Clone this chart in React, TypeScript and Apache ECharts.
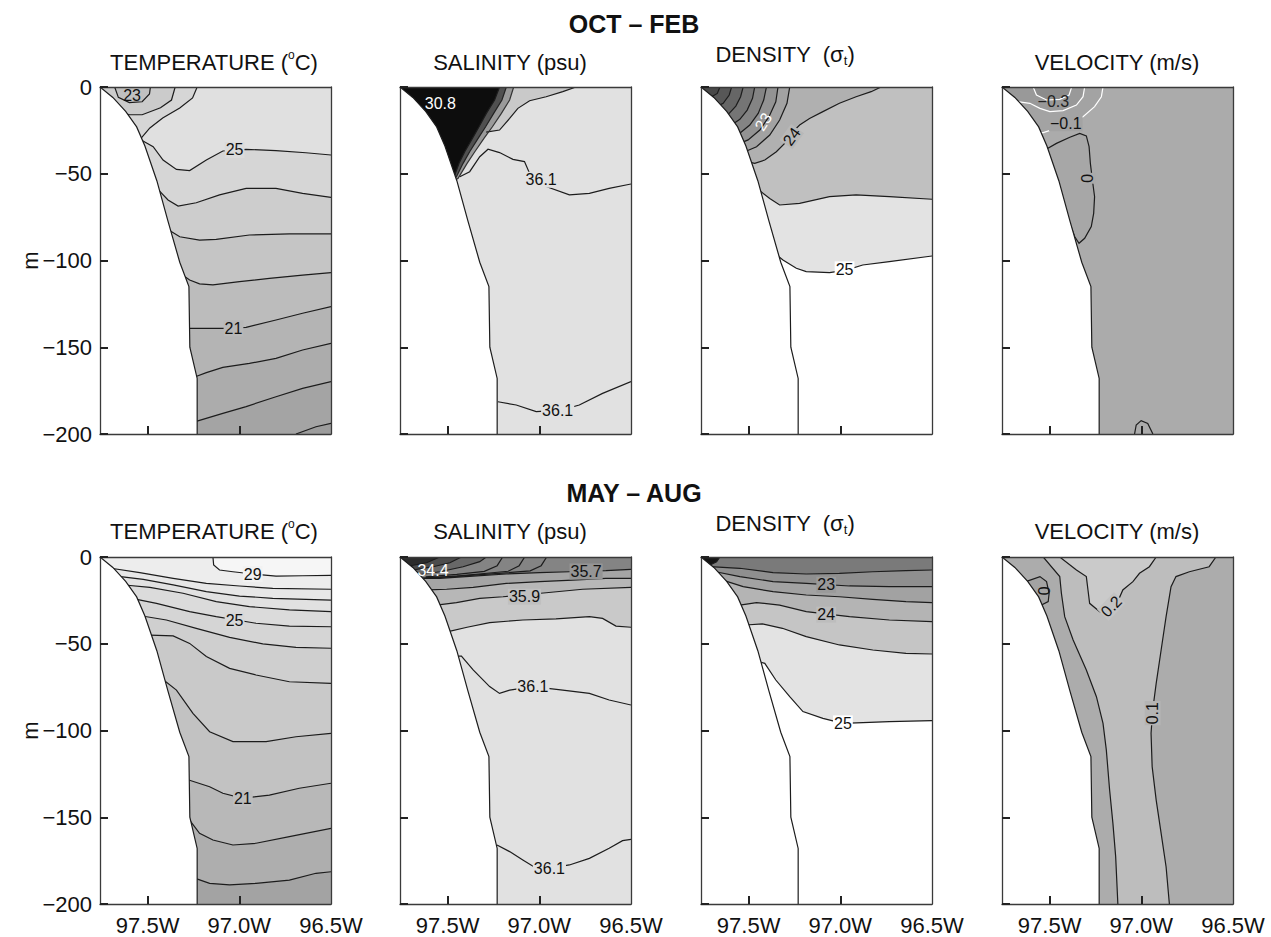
import React, { useEffect, useRef } from 'react';
import * as echarts from 'echarts';

type Pt = [number, number];

// ---------- axes ----------
const LON_MIN = -97.76;
const LON_MAX = -96.5;
const DEPTH_BOTTOM = -200;
const DEPTH_TOP = 0;
const DEPTH_STEP = 50;
const lonTickValues = [-97.5, -97.0];
const lonLabelValues = [-97.5, -97.0, -96.5];

const seasonTitles = ['OCT – FEB', 'MAY – AUG'];

// ---------- shelf bottom (land lies below/left) ----------
const bathymetry: Pt[] = [[-97.76, 0], [-97.69, -6], [-97.62, -14], [-97.56, -23], [-97.515, -34], [-97.45, -54], [-97.39, -77], [-97.325, -101], [-97.275, -115], [-97.27, -150], [-97.23, -168], [-97.23, -200]];

// ---------- OCT–FEB temperature (°C) ----------
const tOct25Coast: Pt[] = [[-97.23, 0], [-97.255, -6.3], [-97.325, -12.1], [-97.418, -17.9], [-97.488, -23.6], [-97.54, -30]];
const tOct24Coast: Pt[] = [[-97.35, 0], [-97.37, -7.5], [-97.43, -12], [-97.53, -16], [-97.6, -16], [-97.645, -14.5]];
const tOct23Loop: Pt[] = [[-97.68, 0], [-97.66, -6], [-97.6, -9], [-97.53, -8.5], [-97.49, -4], [-97.485, 0]];
const tOct25: Pt[] = [[-97.535, -30.5], [-97.47, -34.4], [-97.416, -42.1], [-97.343, -47.5], [-97.271, -48.2], [-97.18, -42.1], [-97.09, -36.9], [-96.963, -35.9], [-96.8, -36.7], [-96.637, -37.9], [-96.5, -39.2]];
const tOct24: Pt[] = [[-97.44, -59.4], [-97.389, -65.1], [-97.334, -68.6], [-97.235, -66.7], [-97.108, -62.2], [-96.963, -58.4], [-96.8, -58.4], [-96.655, -61.3], [-96.5, -63.6]];
const tOct23: Pt[] = [[-97.385, -82.4], [-97.325, -86.3], [-97.217, -88.2], [-97.126, -87.8], [-96.945, -85.3], [-96.727, -84.7], [-96.5, -84.7]];
const tOct22: Pt[] = [[-97.31, -108.4], [-97.271, -111.2], [-97.217, -113.5], [-97.144, -114.1], [-96.999, -112.2], [-96.836, -110.3], [-96.655, -108.4], [-96.5, -107]];
const tOct21: Pt[] = [[-97.28, -139.1], [-97.199, -139.1], [-97.09, -139.1], [-96.963, -138.5], [-96.8, -134.3], [-96.655, -130.4], [-96.5, -126.6]];
const tOct20: Pt[] = [[-97.24, -167], [-97.18, -164.6], [-97.09, -161.6], [-96.945, -159.3], [-96.8, -156.4], [-96.655, -151.6], [-96.5, -147.7]];
const tOct19: Pt[] = [[-97.24, -192.9], [-97.09, -188.1], [-96.963, -184.2], [-96.8, -178.5], [-96.655, -173.7], [-96.5, -169.8]];
const tOct18: Pt[] = [[-96.691, -200], [-96.582, -195.8], [-96.5, -193.9]];

// ---------- OCT–FEB salinity (psu) ----------
const sOctFront: Pt[] = [[-96.8, 0], [-96.872, -2.7], [-96.963, -5.6], [-97.053, -7.9], [-97.117, -12.3], [-97.162, -18.1], [-97.217, -24.8], [-97.29, -26]];
const sOctPlume1: Pt[] = [[-97.14, 0], [-97.162, -7.5], [-97.207, -15.2], [-97.256, -22.9], [-97.302, -29.6], [-97.352, -37.3], [-97.394, -44], [-97.443, -52.6], [-97.48, -55]];
const sOctPlume2: Pt[] = [[-97.18, 0], [-97.204, -7.5], [-97.249, -15.2], [-97.293, -22.9], [-97.334, -29.6], [-97.38, -37.3], [-97.416, -44], [-97.452, -51.7], [-97.48, -54]];
const sOctPlume3: Pt[] = [[-97.217, 0], [-97.244, -7.5], [-97.289, -15.2], [-97.329, -22.9], [-97.365, -29.6], [-97.407, -37.3], [-97.438, -44], [-97.461, -50.7], [-97.49, -52]];
const sOct361Upper: Pt[] = [[-97.434, -51.7], [-97.38, -48.8], [-97.325, -40.2], [-97.28, -35.9], [-97.217, -37.8], [-97.144, -41.7], [-97.081, -43], [-97.053, -49.8], [-96.963, -57.4], [-96.836, -62.2], [-96.727, -61.3], [-96.619, -58.4], [-96.5, -55.9]];
const sOct361Lower: Pt[] = [[-97.226, -181.4], [-97.126, -183.3], [-97.017, -187.1], [-96.881, -186.2], [-96.782, -183.3], [-96.655, -176.6], [-96.5, -169.8]];

// ---------- OCT–FEB density (sigma-t) ----------
const dOct24: Pt[] = [[-96.778, 0], [-96.832, -2.7], [-96.914, -5.6], [-97.005, -9.4], [-97.095, -14.2], [-97.168, -18.1], [-97.222, -21.9], [-97.267, -26.7], [-97.294, -31.5], [-97.349, -37.3], [-97.412, -42.1], [-97.467, -44], [-97.51, -43]];
const dOctArc1: Pt[] = [[-97.276, 0], [-97.291, -9.4], [-97.331, -19], [-97.385, -27.7], [-97.457, -34.4], [-97.521, -37.3]];
const dOctArc2: Pt[] = [[-97.34, 0], [-97.352, -8.5], [-97.389, -17.1], [-97.439, -24.8], [-97.503, -30.5], [-97.548, -32.5]];
const dOctArc3: Pt[] = [[-97.403, 0], [-97.418, -7.5], [-97.448, -15.2], [-97.494, -21.9], [-97.548, -26.7], [-97.584, -27.7]];
const dOctArc4: Pt[] = [[-97.467, 0], [-97.479, -6.5], [-97.508, -13.3], [-97.548, -18.6], [-97.593, -21.9], [-97.621, -22.5]];
const dOctArc5: Pt[] = [[-97.53, 0], [-97.544, -5.6], [-97.57, -11], [-97.606, -15.2], [-97.648, -17.1]];
const dOctArc6: Pt[] = [[-97.593, 0], [-97.606, -4.6], [-97.639, -9.4], [-97.675, -11.3]];
const dOctArc7: Pt[] = [[-97.657, 0], [-97.671, -3.7], [-97.702, -5.6]];
const dOct245: Pt[] = [[-97.457, -58.4], [-97.385, -64.2], [-97.331, -68], [-97.222, -67.1], [-97.059, -63.2], [-96.914, -62.2], [-96.733, -63.2], [-96.5, -64.7]];
const dOct25: Pt[] = [[-97.345, -97], [-97.313, -99.7], [-97.24, -104.5], [-97.186, -106.4], [-97.059, -107], [-96.968, -105.5], [-96.878, -102.6], [-96.733, -100.7], [-96.5, -97.4]];

// ---------- OCT–FEB velocity (m/s) ----------
const vOctM01: Pt[] = [[-97.209, 0], [-97.218, -5.6], [-97.255, -11.3], [-97.318, -17.1], [-97.409, -21.3], [-97.481, -24.4], [-97.535, -26.3], [-97.572, -26.3]];
const vOctM02: Pt[] = [[-97.309, 0], [-97.318, -5.6], [-97.354, -10.4], [-97.427, -13.6], [-97.499, -14.2], [-97.553, -12.3], [-97.608, -9.4], [-97.7, -8]];
const vOctM03: Pt[] = [[-97.38, 0], [-97.394, -4.6], [-97.445, -7.1], [-97.517, -7.5], [-97.572, -4.6], [-97.59, 0]];
const vOctZero: Pt[] = [[-97.526, -36.3], [-97.463, -32.5], [-97.39, -29], [-97.336, -26.7], [-97.3, -28.2], [-97.285, -34.4], [-97.278, -44], [-97.267, -53.6], [-97.255, -63.2], [-97.26, -72.8], [-97.273, -80.5], [-97.309, -87.2], [-97.34, -90.1], [-97.363, -86.3], [-97.39, -78.6], [-97.412, -73.8]];
const vOctBottom: Pt[] = [[-97.037, -200], [-97.028, -194.8], [-97.001, -192.3], [-96.965, -193.9], [-96.937, -200]];

// ---------- MAY–AUG temperature (°C) ----------
const tMay29: Pt[] = [[-97.144, 0], [-97.14, -4.6], [-97.108, -7.5], [-97.035, -8.5], [-96.927, -9.8], [-96.8, -11], [-96.655, -10.8], [-96.5, -10.6]];
const tMay28: Pt[] = [[-97.7, -6.5], [-97.543, -9], [-97.361, -12.3], [-97.18, -15.2], [-96.999, -16.7], [-96.818, -18.1], [-96.5, -18.6]];
const tMay27: Pt[] = [[-97.67, -11], [-97.524, -12.9], [-97.361, -16.1], [-97.18, -20], [-96.999, -22.5], [-96.818, -23.8], [-96.5, -24.8]];
const tMay26: Pt[] = [[-97.64, -16], [-97.488, -17.5], [-97.307, -20.9], [-97.126, -25.7], [-96.945, -28.6], [-96.727, -30.5], [-96.5, -31.5]];
const tMay25: Pt[] = [[-97.58, -24], [-97.452, -26.7], [-97.271, -31.5], [-97.126, -34.4], [-96.909, -38.2], [-96.727, -39.8], [-96.5, -40.2]];
const tMay24: Pt[] = [[-97.53, -34], [-97.398, -36.3], [-97.235, -41.1], [-97.053, -46.3], [-96.872, -50.1], [-96.691, -52.1], [-96.5, -52.6]];
const tMay23: Pt[] = [[-97.488, -45], [-97.361, -45.5], [-97.271, -49.8], [-97.18, -57.4], [-97.053, -64.2], [-96.909, -68], [-96.727, -71.9], [-96.5, -72.8]];
const tMay22: Pt[] = [[-97.425, -69.9], [-97.343, -76.7], [-97.253, -90.1], [-97.162, -100.7], [-97.035, -106.4], [-96.854, -106.4], [-96.691, -103.6], [-96.5, -101.6]];
const tMay21: Pt[] = [[-97.276, -128.5], [-97.162, -132.4], [-97.09, -136.2], [-96.981, -139.1], [-96.836, -137.2], [-96.673, -133.3], [-96.5, -130.4]];
const tMay20: Pt[] = [[-97.271, -151.6], [-97.217, -159.3], [-97.144, -163.1], [-97.035, -166], [-96.909, -165], [-96.727, -161.2], [-96.5, -156.4]];
const tMay19: Pt[] = [[-97.24, -185.2], [-97.162, -188.1], [-97.053, -189], [-96.909, -188.1], [-96.727, -186.2], [-96.582, -182.3], [-96.5, -181.4]];

// ---------- MAY–AUG salinity (psu) ----------
const sMayCore1: Pt[] = [[-97.289, 0], [-97.325, -2.7], [-97.416, -5.6], [-97.543, -8.5], [-97.67, -10.5]];
const sMayCore2: Pt[] = [[-97.425, 0], [-97.488, -3.3], [-97.579, -5.6], [-97.69, -7.5]];
const sMayCore3: Pt[] = [[-97.543, 0], [-97.615, -3.3], [-97.71, -5.2]];
const sMayStreak1: Pt[] = [[-97.2, 0], [-97.23, -5], [-97.3, -8.3], [-97.45, -10], [-97.62, -11.5]];
const sMayStreak2: Pt[] = [[-97.08, 0], [-97.11, -5], [-97.17, -8.2], [-97.3, -9.5], [-97.45, -11], [-97.62, -12]];
const sMayStreak3: Pt[] = [[-96.96, 0], [-96.99, -5], [-97.05, -8], [-97.2, -9.3], [-97.36, -10.5], [-97.54, -11.8], [-97.64, -12.1]];
const sMay357: Pt[] = [[-97.642, -12.3], [-97.543, -12.3], [-97.361, -11], [-97.18, -9.8], [-96.999, -9], [-96.836, -8.5], [-96.637, -7.9], [-96.5, -7.1]];
const sMay358: Pt[] = [[-97.606, -19], [-97.506, -18.6], [-97.361, -17.5], [-97.18, -15.2], [-96.999, -14.2], [-96.818, -13.3], [-96.637, -12.3], [-96.5, -12.3]];
const sMay359: Pt[] = [[-97.561, -27.7], [-97.452, -26.3], [-97.325, -23.8], [-97.198, -22.9], [-96.963, -20.6], [-96.764, -18.6], [-96.5, -17.5]];
const sMay360: Pt[] = [[-97.497, -43], [-97.394, -40.5], [-97.271, -37.8], [-97.09, -36.3], [-96.909, -35.7], [-96.727, -34.4], [-96.655, -35.4], [-96.582, -39.8], [-96.5, -40.5]];
const sMay361Upper: Pt[] = [[-97.443, -57.1], [-97.425, -57.1], [-97.361, -65.1], [-97.271, -74.7], [-97.217, -78.6], [-97.162, -76.7], [-97.035, -74.7], [-96.872, -76.7], [-96.727, -78.6], [-96.619, -82.4], [-96.5, -85.3]];
const sMay361Lower: Pt[] = [[-97.231, -166], [-97.162, -169.8], [-97.09, -174.6], [-97.017, -179.4], [-96.945, -179.4], [-96.836, -177.5], [-96.727, -173.7], [-96.619, -167.9], [-96.546, -163.5], [-96.5, -162.7]];

// ---------- MAY–AUG density (sigma-t) ----------
const dMayCore: Pt[] = [[-97.657, 0], [-97.675, -2.7], [-97.711, -4.6]];
const dMay225: Pt[] = [[-97.71, -5.5], [-97.548, -6.5], [-97.367, -9], [-97.186, -9.8], [-97.005, -9.4], [-96.823, -8.5], [-96.642, -7.9], [-96.5, -7.5]];
const dMay23: Pt[] = [[-97.68, -8.5], [-97.548, -11.3], [-97.367, -14.2], [-97.186, -15.2], [-96.95, -16.7], [-96.733, -17.1], [-96.5, -17.1]];
const dMay235: Pt[] = [[-97.65, -13], [-97.53, -17.1], [-97.367, -20], [-97.186, -21.9], [-97.005, -22.9], [-96.823, -24.4], [-96.642, -25.7], [-96.5, -26.3]];
const dMay24: Pt[] = [[-97.548, -27.7], [-97.457, -26.3], [-97.331, -27.7], [-97.186, -31.5], [-96.95, -34.4], [-96.733, -36.3], [-96.5, -37.3]];
const dMay245: Pt[] = [[-97.515, -39.2], [-97.425, -38.6], [-97.316, -41.1], [-97.186, -45.9], [-97.005, -50.7], [-96.823, -53.6], [-96.642, -55.5], [-96.5, -55.9]];
const dMay25: Pt[] = [[-97.448, -60.3], [-97.412, -61.3], [-97.352, -70.9], [-97.276, -80.5], [-97.204, -89.1], [-97.095, -93], [-96.986, -95.9], [-96.877, -95.5], [-96.733, -94.9], [-96.5, -94.3]];

// ---------- MAY–AUG velocity (m/s) ----------
const vMay01West: Pt[] = [[-97.535, 0], [-97.445, -11.3], [-97.436, -20.9], [-97.418, -34.4], [-97.372, -47.8], [-97.3, -65.1], [-97.245, -80.5], [-97.209, -95.9], [-97.191, -111.2], [-97.173, -134.3], [-97.155, -153.5], [-97.14, -172.7], [-97.128, -200]];
const vMay01East: Pt[] = [[-96.593, 0], [-96.63, -5.6], [-96.738, -8.5], [-96.811, -11.3], [-96.838, -17.1], [-96.865, -34.4], [-96.892, -53.6], [-96.919, -72.8], [-96.938, -88.2], [-96.947, -101.6], [-96.941, -120.8], [-96.919, -140.1], [-96.892, -159.3], [-96.865, -178.5], [-96.847, -200]];
const vMay02: Pt[] = [[-97.445, 0], [-97.354, -7.5], [-97.3, -11.3], [-97.291, -19], [-97.282, -26.7], [-97.227, -31.5], [-97.191, -32.5], [-97.137, -27.7], [-97.101, -19], [-97.046, -14.2], [-97.01, -9.4], [-96.956, -5.6], [-96.919, 0]];
const vMay00: Pt[] = [[-97.63, -14.2], [-97.553, -11.3], [-97.517, -14.2], [-97.503, -20.9], [-97.508, -25.7], [-97.55, -28]];

// ---------- drawing model ----------
type Mode = 'below' | 'corner' | 'poly' | 'line';
interface Layer { mode: Mode; pts: Pt[]; fill?: string; stroke?: string | null }
interface Label { at: Pt; text: string; rot?: number; color?: string; bg?: string; size?: number }
interface Panel { base: string; layers: Layer[]; labels: Label[] }

const FONT = '"Liberation Sans", Arial, Helvetica, sans-serif';
const INK = '#1c1c1c';
const WHITE = '#ffffff';

const panels: Panel[] = [
  {
    base: '#e0e0e0',
    layers: [
      { mode: 'corner', pts: tOct25Coast, fill: '#d6d6d6' },
      { mode: 'below', pts: tOct25, fill: '#d6d6d6' },
      { mode: 'corner', pts: tOct24Coast, fill: '#cbcbcb' },
      { mode: 'poly', pts: tOct23Loop, fill: '#c0c0c0' },
      { mode: 'below', pts: tOct24, fill: '#cdcdcd' },
      { mode: 'below', pts: tOct23, fill: '#c5c5c5' },
      { mode: 'below', pts: tOct22, fill: '#bcbcbc' },
      { mode: 'below', pts: tOct21, fill: '#b4b4b4' },
      { mode: 'below', pts: tOct20, fill: '#acacac' },
      { mode: 'below', pts: tOct19, fill: '#a4a4a4' },
      { mode: 'below', pts: tOct18, fill: '#9c9c9c' },
    ],
    labels: [
      { at: [-97.026, -36.3], text: '25', bg: '#dbdbdb' },
      { at: [-97.032, -139.1], text: '21', bg: '#b8b8b8' },
      { at: [-97.585, -4.8], text: '23' },
    ],
  },
  {
    base: '#e1e1e1',
    layers: [
      { mode: 'corner', pts: sOctFront, fill: '#c9c9c9' },
      { mode: 'corner', pts: sOctPlume1, fill: '#9a9a9a', stroke: '#333333' },
      { mode: 'corner', pts: sOctPlume2, fill: '#505050', stroke: '#222222' },
      { mode: 'corner', pts: sOctPlume3, fill: '#0d0d0d' },
      { mode: 'line', pts: sOct361Upper },
      { mode: 'line', pts: sOct361Lower },
    ],
    labels: [
      { at: [-97.54, -9.4], text: '30.8', color: WHITE },
      { at: [-96.99, -53.5], text: '36.1', bg: '#e1e1e1' },
      { at: [-96.9, -186.4], text: '36.1', bg: '#e1e1e1' },
    ],
  },
  {
    base: '#c0c0c0',
    layers: [
      { mode: 'corner', pts: dOct24, fill: '#b0b0b0' },
      { mode: 'corner', pts: dOctArc1, fill: '#a2a2a2' },
      { mode: 'corner', pts: dOctArc2, fill: '#939393' },
      { mode: 'corner', pts: dOctArc3, fill: '#848484' },
      { mode: 'corner', pts: dOctArc4, fill: '#757575' },
      { mode: 'corner', pts: dOctArc5, fill: '#666666' },
      { mode: 'corner', pts: dOctArc6, fill: '#575757' },
      { mode: 'corner', pts: dOctArc7, fill: '#484848' },
      { mode: 'below', pts: dOct245, fill: '#e3e3e3' },
      { mode: 'below', pts: dOct25, fill: '#ffffff' },
    ],
    labels: [
      { at: [-97.265, -28.6], text: '24', rot: 0.95, bg: '#b8b8b8' },
      { at: [-97.42, -20], text: '23', rot: 1.0, color: WHITE },
      { at: [-96.977, -105.1], text: '25', bg: '#ffffff' },
    ],
  },
  {
    base: '#ababab',
    layers: [
      { mode: 'corner', pts: vOctM01, fill: '#a3a3a3', stroke: WHITE },
      { mode: 'corner', pts: vOctM02, fill: '#999999', stroke: WHITE },
      { mode: 'poly', pts: vOctM03, fill: '#8c8c8c', stroke: WHITE },
      { mode: 'poly', pts: vOctZero, fill: '#a7a7a7' },
      { mode: 'line', pts: vOctBottom },
    ],
    labels: [
      { at: [-97.48, -8.6], text: '−0.3', color: '#222222' },
      { at: [-97.412, -20.9], text: '−0.1', bg: '#a3a3a3' },
      { at: [-97.291, -52.6], text: '0', rot: Math.PI / 2, bg: '#a9a9a9' },
    ],
  },
  {
    base: '#f6f6f6',
    layers: [
      { mode: 'below', pts: tMay29, fill: '#ededed' },
      { mode: 'below', pts: tMay28, fill: '#e7e7e7' },
      { mode: 'below', pts: tMay27, fill: '#e1e1e1' },
      { mode: 'below', pts: tMay26, fill: '#dbdbdb' },
      { mode: 'below', pts: tMay25, fill: '#d5d5d5' },
      { mode: 'below', pts: tMay24, fill: '#cfcfcf' },
      { mode: 'below', pts: tMay23, fill: '#c9c9c9' },
      { mode: 'below', pts: tMay22, fill: '#c2c2c2' },
      { mode: 'below', pts: tMay21, fill: '#b8b8b8' },
      { mode: 'below', pts: tMay20, fill: '#aeaeae' },
      { mode: 'below', pts: tMay19, fill: '#a3a3a3' },
    ],
    labels: [
      { at: [-96.927, -9.8], text: '29', bg: '#f2f2f2' },
      { at: [-97.026, -36.4], text: '25', bg: '#d8d8d8' },
      { at: [-96.981, -139.1], text: '21', bg: '#bdbdbd' },
    ],
  },
  {
    base: '#848484',
    layers: [
      { mode: 'below', pts: sMay357, fill: '#a5a5a5' },
      { mode: 'below', pts: sMay358, fill: '#b7b7b7' },
      { mode: 'below', pts: sMay359, fill: '#c9c9c9' },
      { mode: 'below', pts: sMay360, fill: '#e1e1e1' },
      { mode: 'corner', pts: sMayCore1, fill: '#686868' },
      { mode: 'corner', pts: sMayCore2, fill: '#4c4c4c' },
      { mode: 'corner', pts: sMayCore3, fill: '#2c2c2c' },
      { mode: 'line', pts: sMayStreak1 },
      { mode: 'line', pts: sMayStreak2 },
      { mode: 'line', pts: sMayStreak3 },
      { mode: 'line', pts: sMay361Upper },
      { mode: 'line', pts: sMay361Lower },
    ],
    labels: [
      { at: [-97.58, -7.8], text: '34.4', color: WHITE },
      { at: [-96.745, -8.3], text: '35.7', bg: '#959595' },
      { at: [-97.081, -22.9], text: '35.9', bg: '#c0c0c0' },
      { at: [-97.035, -74.7], text: '36.1', bg: '#e1e1e1' },
      { at: [-96.945, -179.4], text: '36.1', bg: '#e1e1e1' },
    ],
  },
  {
    base: '#7a7a7a',
    layers: [
      { mode: 'below', pts: dMay225, fill: '#8f8f8f' },
      { mode: 'below', pts: dMay23, fill: '#a2a2a2' },
      { mode: 'below', pts: dMay235, fill: '#b4b4b4' },
      { mode: 'below', pts: dMay24, fill: '#c5c5c5' },
      { mode: 'below', pts: dMay245, fill: '#e3e3e3' },
      { mode: 'below', pts: dMay25, fill: '#ffffff' },
      { mode: 'corner', pts: dMayCore, fill: '#141414' },
    ],
    labels: [
      { at: [-97.077, -16], text: '23', bg: '#9a9a9a' },
      { at: [-97.077, -33.2], text: '24', bg: '#bdbdbd' },
      { at: [-96.986, -95.9], text: '25', bg: '#ffffff' },
    ],
  },
  {
    base: '#acacac',
    layers: [
      { mode: 'poly', pts: [...vMay01West, ...[...vMay01East].reverse()], fill: '#bdbdbd', stroke: null },
      { mode: 'line', pts: vMay01West },
      { mode: 'line', pts: vMay01East },
      { mode: 'poly', pts: vMay02, fill: '#cacaca' },
      { mode: 'poly', pts: vMay00, fill: '#a3a3a3' },
    ],
    labels: [
      { at: [-96.938, -90], text: '0.1', rot: Math.PI / 2, bg: '#b4b4b4' },
      { at: [-97.164, -28.5], text: '0.2', rot: 0.8, bg: '#c3c3c3' },
      { at: [-97.53, -19.5], text: '0', rot: Math.PI / 2 },
    ],
  },
];

const variableTitles = [
  { text: '{a|TEMPERATURE (}{s|o}{a|C)}', cx: 214, dy: 0 },
  { text: '{a|SALINITY (psu)}', cx: 510, dy: 0 },
  { text: '{a|DENSITY  (σ}{b|t}{a|)}', cx: 785, dy: -8 },
  { text: '{a|VELOCITY (m/s)}', cx: 1117, dy: 0 },
];

// ---------- layout ----------
const COL_LEFT = [100, 400, 701, 1002];
const ROW_TOP = [87, 557];
const PANEL_W = 231;
const PANEL_H = 347;
const FRAME = '#3a3a3a';

function polygonOf(layer: Layer): Pt[] {
  const p = layer.pts;
  if (layer.mode === 'below') {
    const out: Pt[] = [...p, [LON_MAX, DEPTH_BOTTOM], [LON_MIN, DEPTH_BOTTOM]];
    if (p[0][1] === DEPTH_TOP) out.push([LON_MIN, DEPTH_TOP]);
    return out;
  }
  if (layer.mode === 'corner') {
    const last = p[p.length - 1];
    return [...p, [LON_MIN, last[1]], [LON_MIN, DEPTH_TOP]];
  }
  return p;
}

function buildOps(panel: Panel): any[] {
  const ops: any[] = [];
  panel.layers.forEach((l) => {
    if (l.fill && l.mode !== 'line') ops.push({ kind: 'poly', pts: polygonOf(l), color: l.fill });
  });
  panel.layers.forEach((l) => {
    if (l.stroke !== null) ops.push({ kind: 'line', pts: l.pts, color: l.stroke || INK });
  });
  ops.push({ kind: 'poly', pts: [...bathymetry, [LON_MIN, DEPTH_BOTTOM]], color: WHITE });
  ops.push({ kind: 'line', pts: bathymetry, color: INK });
  panel.labels.forEach((lb) => ops.push({ kind: 'text', ...lb }));
  return ops;
}

function renderOp(op: any, api: any) {
  if (op.kind === 'poly') {
    return { type: 'polygon', silent: true, shape: { points: op.pts.map((p: Pt) => api.coord(p)) }, style: { fill: op.color } };
  }
  if (op.kind === 'line') {
    return { type: 'polyline', silent: true, shape: { points: op.pts.map((p: Pt) => api.coord(p)) }, style: { stroke: op.color, lineWidth: 1.2, fill: null } };
  }
  const [x, y] = api.coord(op.at);
  return {
    type: 'text', silent: true, x, y, rotation: op.rot || 0,
    style: {
      text: op.text, fill: op.color || '#111111', fontSize: op.size || 16, fontFamily: FONT,
      align: 'center', verticalAlign: 'middle', textAlign: 'center', textVerticalAlign: 'middle',
      backgroundColor: op.bg, padding: op.bg ? [0, 1] : 0,
    },
  };
}

function buildOption() {
  const grid: any[] = [];
  const xAxis: any[] = [];
  const yAxis: any[] = [];
  const series: any[] = [];

  panels.forEach((panel, i) => {
    const row = Math.floor(i / 4);
    const col = i % 4;
    grid.push({ left: COL_LEFT[col], top: ROW_TOP[row], width: PANEL_W, height: PANEL_H, show: true, backgroundColor: panel.base, borderWidth: 0 });
    xAxis.push({
      type: 'value', gridIndex: i, min: LON_MIN, max: LON_MAX, position: 'bottom', z: 10,
      axisLine: { show: true, onZero: false, lineStyle: { color: FRAME, width: 1.3 } },
      axisTick: { show: true, inside: true, length: 8, customValues: lonTickValues, lineStyle: { color: '#222', width: 2 } },
      axisLabel: {
        show: row === 1, customValues: lonLabelValues, showMinLabel: true, showMaxLabel: true,
        formatter: (v: number) => `${(-v).toFixed(1)}W`, fontSize: 22, fontFamily: FONT, color: '#111', margin: 10,
      },
      splitLine: { show: false },
    });
    xAxis.push({
      type: 'value', gridIndex: i, min: LON_MIN, max: LON_MAX, position: 'top', z: 10,
      axisLine: { show: true, onZero: false, lineStyle: { color: FRAME, width: 1.3 } },
      axisTick: { show: false }, axisLabel: { show: false }, splitLine: { show: false },
    });
    yAxis.push({
      type: 'value', gridIndex: i, min: DEPTH_BOTTOM, max: DEPTH_TOP, interval: DEPTH_STEP, position: 'left', z: 10,
      axisLine: { show: true, onZero: false, lineStyle: { color: FRAME, width: 1.3 } },
      axisTick: { show: true, inside: true, length: 8, lineStyle: { color: '#222', width: 2 } },
      axisLabel: {
        show: col === 0, formatter: (v: number) => (v === 0 ? '0' : `\u2212${Math.abs(v)}`),
        fontSize: 22, fontFamily: FONT, color: '#111', margin: 8,
      },
      splitLine: { show: false },
    });
    yAxis.push({
      type: 'value', gridIndex: i, min: DEPTH_BOTTOM, max: DEPTH_TOP, interval: DEPTH_STEP, position: 'right', z: 10,
      axisLine: { show: true, onZero: false, lineStyle: { color: FRAME, width: 1.3 } },
      axisTick: { show: false }, axisLabel: { show: false }, splitLine: { show: false },
    });
    const ops = buildOps(panel);
    series.push({
      type: 'custom', coordinateSystem: 'cartesian2d', xAxisIndex: 2 * i, yAxisIndex: 2 * i,
      clip: true, silent: true, animation: false,
      dimensions: ['x', 'y', 'k'], encode: { x: 0, y: 1 },
      data: ops.map((_, k) => [-97, -100, k]),
      renderItem: (params: any, api: any) => renderOp(ops[params.dataIndex], api),
    });
  });

  const graphic: any[] = [];
  const seasonY = [24, 493];
  seasonTitles.forEach((t, r) => {
    graphic.push({
      type: 'text', x: 634, y: seasonY[r],
      style: { text: t, font: `bold 25px ${FONT}`, fill: '#111', align: 'center', verticalAlign: 'middle', textAlign: 'center', textVerticalAlign: 'middle' },
    });
  });
  const titleY = [62, 531];
  [0, 1].forEach((r) => {
    variableTitles.forEach((vt) => {
      graphic.push({
        type: 'text', x: vt.cx, y: titleY[r] + vt.dy,
        style: {
          text: vt.text, align: 'center', verticalAlign: 'middle', textAlign: 'center', textVerticalAlign: 'middle',
          fontSize: 22, fontFamily: FONT, fill: '#111',
          rich: {
            a: { fontSize: 22, fontFamily: FONT, fill: '#111', lineHeight: 26, verticalAlign: 'middle' },
            s: { fontSize: 12, fontFamily: FONT, fill: '#111', lineHeight: 26, verticalAlign: 'top' },
            b: { fontSize: 13, fontFamily: FONT, fill: '#111', lineHeight: 14, verticalAlign: 'bottom' },
          },
        },
      });
    });
    graphic.push({
      type: 'text', x: 30, y: ROW_TOP[r] + PANEL_H / 2, rotation: Math.PI / 2,
      style: { text: 'm', fontSize: 22, fontFamily: FONT, fill: '#111', align: 'center', verticalAlign: 'middle', textAlign: 'center', textVerticalAlign: 'middle' },
    });
  });

  return { animation: false, backgroundColor: '#ffffff', grid, xAxis, yAxis, series, graphic };
}

export default function App() {
  const ref = useRef<HTMLDivElement>(null);
  useEffect(() => {
    if (!ref.current) return;
    const chart = echarts.init(ref.current, undefined, { renderer: 'svg' });
    chart.setOption(buildOption() as any);
    return () => chart.dispose();
  }, []);
  return <div ref={ref} style={{ position: 'absolute', left: 0, top: 0, width: 1271, height: 937, background: '#ffffff' }} />;
}
